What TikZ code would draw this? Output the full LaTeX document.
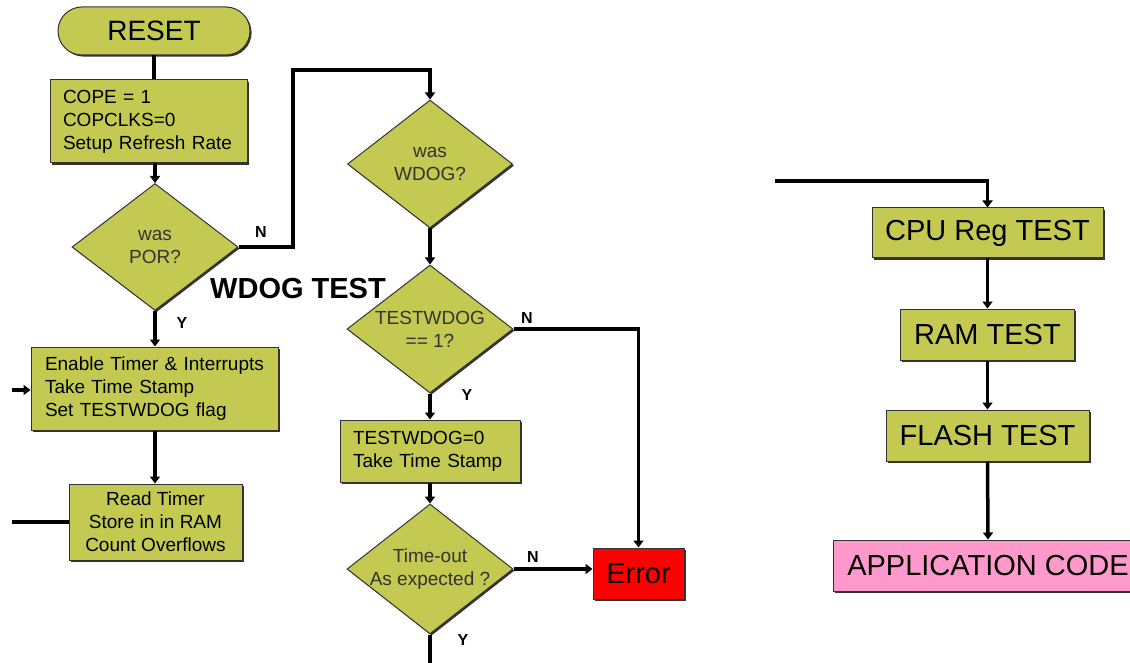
\documentclass[tikz,border=0pt]{standalone}
\usepackage{fontspec}
\setmainfont{Liberation Sans}
\usetikzlibrary{shapes.geometric,shapes.misc,arrows.meta,shadows}
\definecolor{boxfill}{HTML}{C3C951}
\definecolor{appfill}{HTML}{FF99CC}
\definecolor{errfill}{HTML}{FF0000}
\begin{document}
\begin{tikzpicture}[x=1pt,y=-1pt,
  base/.style={draw=black!80, line width=1pt, fill=boxfill, inner sep=0pt,
    drop shadow={shadow xshift=1.6pt, shadow yshift=-1.6pt, fill=black!80, opacity=1}},
  leftbox/.style={base, rectangle, font=\fontsize{19}{23}\selectfont, align=left},
  midbox/.style={base, rectangle, font=\fontsize{19}{23}\selectfont, align=center},
  bigbox/.style={base, rectangle, font=\fontsize{29}{32}\selectfont, align=center},
  decision/.style={base, diamond, shape aspect=1.3, font=\fontsize{19}{23}\selectfont,
    text=black!80, align=center},
  conn/.style={line width=3.5pt},
  arr/.style={conn, -{Triangle[width=10pt,length=7pt]}},
  yn/.style={font=\fontsize{16}{16}\selectfont\bfseries, inner sep=0pt},
]
\fill[white] (0,0) rectangle (1130,663);
\useasboundingbox (0,0) rectangle (1130,663);

% --- left column: power-on path
\node[base, rounded rectangle, minimum width=192pt, minimum height=48pt,
      font=\fontsize{28}{30}\selectfont] (reset) at (154,31) {RESET};
\node[leftbox, text width=171pt, inner xsep=13pt, minimum height=83pt] (cope) at (148.5,121.5)
  {COPE = 1\\COPCLKS=0\\Setup Refresh Rate};
\node[decision, minimum width=166pt, minimum height=127pt] (por) at (155,247) {was\\POR?};
\node[leftbox, text width=219pt, inner xsep=14pt, minimum height=83pt] (enable) at (154.5,388.5)
  {Enable Timer \& Interrupts\\Take Time Stamp\\Set TESTWDOG flag};
\node[midbox, minimum width=173pt, minimum height=76pt] (read) at (155.5,522)
  {Read Timer\\Store in in RAM\\Count Overflows};

% --- middle column: watchdog check
\node[decision, minimum width=165pt, minimum height=128pt] (wdog) at (430,164) {was\\WDOG?};
\node[decision, minimum width=166pt, minimum height=128pt] (test) at (430,329) {TESTWDOG\\== 1?};
\node[leftbox, text width=154pt, inner xsep=13pt, minimum height=62pt] (tw0) at (430,451)
  {TESTWDOG=0\\Take Time Stamp};
\node[decision, inner xsep=-14pt, inner ysep=-6pt, minimum width=166pt, minimum height=130pt] (tout) at (430,569)
  {Time-out\\As expected ?};
\node[bigbox, fill=errfill, minimum width=91pt, minimum height=51pt] (error) at (638.5,573.5) {Error};

\node[font=\fontsize{29}{30}\selectfont\bfseries, inner sep=0pt] (title) at (298,289) {WDOG TEST};

% --- right column: self tests
\node[bigbox, minimum width=231pt, minimum height=50pt] (cpu) at (987.5,233) {CPU Reg TEST};
\node[bigbox, minimum width=174pt, minimum height=51pt] (ram) at (987.5,334.5) {RAM TEST};
\node[bigbox, minimum width=203pt, minimum height=51pt] (flash) at (987.5,435.5) {FLASH TEST};
\node[bigbox, fill=appfill, minimum width=310pt, minimum height=51pt] (app) at (988,565.5) {APPLICATION CODE};

% --- free ends and bends
\coordinate (nbend) at (293,70);
\coordinate (inL) at (12,390);
\coordinate (outL) at (12,522);
\coordinate (outB) at (430,663);
\coordinate (inR) at (775,181);

% --- connectors
\draw[conn] (reset.center |- reset.south) -- (reset.center |- cope.north);
\draw[arr] (por.north |- cope.south) -- (por.north);
\draw[arr] (por.south) -- (enable.north -| por.south);
\draw[arr] (enable.south -| por.south) -- (read.north -| por.south);
\draw[arr] (inL) -- (inL -| enable.west);
\draw[conn] (read.west |- outL) -- (outL);
\draw[arr] (por.east) -| (nbend) -| (wdog.north);
\draw[arr] (wdog.south) -- (test.north);
\draw[arr] (test.south) -- (tw0.north);
\draw[arr] (tw0.south) -- (tout.north);
\draw[arr] (test.east) -| (error.north);
\draw[arr] (tout.east) -- (tout.east -| error.west);
\draw[conn] (tout.south) -- (outB);
\draw[arr] (inR) -| (cpu.north);
\draw[arr] (cpu.south) -- (ram.north);
\draw[arr] (ram.south) -- (flash.north);
\draw[arr] (flash.south) -- (app.north);

% --- branch labels
\node[yn] (n1) at (261,232) {N};
\node[yn] (y1) at (182,323) {Y};
\node[yn] (n2) at (527,318) {N};
\node[yn] (y2) at (467,395) {Y};
\node[yn] (n3) at (533,557) {N};
\node[yn] (y3) at (463,640) {Y};
\end{tikzpicture}
\end{document}
